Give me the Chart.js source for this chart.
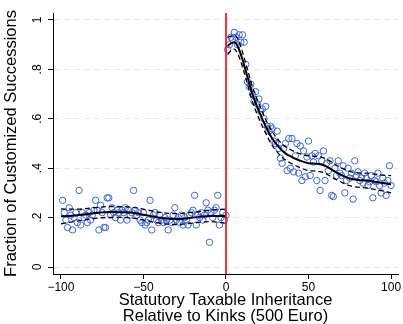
<!DOCTYPE html>
<html>
<head>
<meta charset="utf-8">
<script src="https://cdn.jsdelivr.net/npm/chart.js@4/dist/chart.umd.min.js"></script>
<style>
  html, body { margin: 0; padding: 0; background: #fff; }
  #wrap { width: 403px; height: 324px; }
</style>
</head>
<body>
<div id="wrap"><canvas id="c" width="403" height="324"></canvas></div>
<script>
// ---- data ----
const leftX = [-99,-98,-97,-96,-95,-94,-93,-92,-91,-90,-89,-88,-87,-86,-85,-84,-83,-82,-81,-80,
  -79,-78,-77,-76,-75,-74,-73,-72,-71,-70,-69,-68,-67,-66,-65,-64,-63,-62,-61,-60,
  -59,-58,-57,-56,-55,-54,-53,-52,-51,-50,-49,-48,-47,-46,-45,-44,-43,-42,-41,-40,
  -39,-38,-37,-36,-35,-34,-33,-32,-31,-30,-29,-28,-27,-26,-25,-24,-23,-22,-21,-20,
  -19,-18,-17,-16,-15,-14,-13,-12,-11,-10,-9,-8,-7,-6,-5,-4,-3,-2,-1,0];
const leftY = [0.27,0.22,0.19,0.16,0.24,0.21,0.15,0.20,0.22,0.18,0.31,0.17,0.22,0.20,0.21,0.18,0.22,0.19,0.21,0.23,
  0.27,0.23,0.15,0.25,0.22,0.16,0.16,0.28,0.28,0.21,0.24,0.22,0.20,0.23,0.22,0.19,0.23,0.22,0.24,0.19,
  0.23,0.21,0.22,0.31,0.23,0.21,0.22,0.19,0.18,0.22,0.17,0.18,0.19,0.27,0.15,0.21,0.22,0.19,0.18,0.21,
  0.19,0.18,0.20,0.19,0.15,0.19,0.18,0.21,0.24,0.19,0.20,0.18,0.21,0.17,0.20,0.19,0.17,0.21,0.22,0.23,
  0.29,0.17,0.21,0.20,0.22,0.19,0.21,0.26,0.23,0.10,0.22,0.20,0.23,0.24,0.29,0.17,0.20,0.22,0.19,0.21];

const rightX = [1,2,3,4,5,6,7,8,9,10,11,12,13,14,15,16,17,18,19,20,
  21,22,23,24,25,26,27,28,29,30,31,32,33,34,35,36,37,38,39,40,
  41,42,43,44,45,46,47,48,49,50,51,52,53,54,55,56,57,58,59,60,
  61,62,63,64,65,66,67,68,69,70,71,72,73,74,75,76,77,78,79,80,
  81,82,83,84,85,86,87,88,89,90,91,92,93,94,95,96,97,98,99,100];
const rightY = [0.88,0.90,0.93,0.92,0.95,0.93,0.90,0.94,0.91,0.94,0.91,0.82,0.75,0.73,0.74,0.70,0.67,0.71,0.66,0.68,
  0.63,0.64,0.60,0.65,0.57,0.55,0.57,0.56,0.51,0.50,0.55,0.48,0.44,0.42,0.48,0.50,0.39,0.52,0.40,0.52,
  0.385,0.45,0.50,0.38,0.49,0.35,0.47,0.365,0.445,0.51,0.37,0.45,0.425,0.46,0.35,0.45,0.31,0.43,0.47,0.35,
  0.42,0.39,0.43,0.29,0.285,0.40,0.37,0.43,0.38,0.37,0.41,0.30,0.35,0.40,0.36,0.38,0.275,0.43,0.37,0.385,
  0.35,0.36,0.34,0.38,0.36,0.33,0.345,0.37,0.28,0.35,0.345,0.38,0.33,0.30,0.36,0.34,0.29,0.35,0.41,0.33];

// fitted polynomial and confidence band
const fitLeftX  = [-100,-90,-80,-70,-60,-50,-40,-30,-20,-10,0];
const fitLeftY  = [0.205,0.210,0.218,0.223,0.222,0.212,0.199,0.194,0.200,0.207,0.206];
const fitLeftHi = [0.235,0.234,0.240,0.245,0.244,0.234,0.221,0.216,0.222,0.230,0.235];
const fitLeftLo = [0.175,0.186,0.196,0.201,0.200,0.190,0.177,0.172,0.178,0.184,0.177];

const fitRightX  = [1,3,5,7,10,13,16,20,24,28,32,36,40,45,50,55,60,65,70,75,80,85,90,95,100];
const fitRightY  = [0.895,0.905,0.910,0.895,0.840,0.770,0.700,0.630,0.570,0.520,0.485,0.460,0.445,0.430,0.420,0.418,0.410,0.390,0.372,0.358,0.352,0.350,0.345,0.340,0.335];
const fitRightHi = [0.930,0.935,0.938,0.925,0.870,0.800,0.730,0.660,0.598,0.548,0.512,0.487,0.472,0.458,0.450,0.448,0.440,0.420,0.401,0.387,0.381,0.380,0.376,0.372,0.370];
const fitRightLo = [0.860,0.875,0.882,0.865,0.810,0.740,0.670,0.600,0.542,0.492,0.458,0.433,0.418,0.402,0.390,0.388,0.380,0.360,0.343,0.329,0.323,0.320,0.314,0.308,0.300];

const cutoffX = [0, 0];
const xRange = [-104.8, 104.2];
const yRange = [-0.0283, 1.0283];
const xTickValues = [-100, -50, 0, 50, 100];
const xTickLabels = ['\u2212100', '\u221250', '0', '50', '100'];
const yTickValues = [0, 0.2, 0.4, 0.6, 0.8, 1];
const yTickLabels = ['0', '.2', '.4', '.6', '.8', '1'];
const xTitle = ['Statutory Taxable Inheritance', 'Relative to Kinks (500 Euro)'];
const yTitle = 'Fraction of Customized Successions';

// ---- build chart ----
const zip = (xs, ys) => xs.map((x, i) => ({x: x, y: ys[i]}));
const FONT = "'Liberation Sans', Arial, Helvetica, sans-serif";
const BLUE = '#3f66d6';

function fitSet(xs, ys, dashed, order) {
  return {
    data: zip(xs, ys),
    showLine: true,
    borderColor: '#000',
    borderWidth: dashed ? 1.3 : 2,
    borderDash: dashed ? [5, 3] : [],
    pointRadius: 0,
    pointHoverRadius: 0,
    tension: 0.4,
    cubicInterpolationMode: 'monotone',
    fill: false,
    order: order
  };
}

const datasets = [
  { data: zip(cutoffX, yRange), showLine: true, borderColor: '#ff0000', borderWidth: 1.6, pointRadius: 0, order: 0 },
  fitSet(fitLeftX, fitLeftY, false, 1),
  fitSet(fitLeftX, fitLeftHi, true, 1),
  fitSet(fitLeftX, fitLeftLo, true, 1),
  fitSet(fitRightX, fitRightY, false, 1),
  fitSet(fitRightX, fitRightHi, true, 1),
  fitSet(fitRightX, fitRightLo, true, 1),
  { data: zip(leftX, leftY), showLine: false, pointRadius: 3.2, pointBorderWidth: 1, pointBorderColor: BLUE, pointBackgroundColor: 'rgba(0,0,0,0)', order: 2 },
  { data: zip(rightX, rightY), showLine: false, pointRadius: 3.2, pointBorderWidth: 1, pointBorderColor: BLUE, pointBackgroundColor: 'rgba(0,0,0,0)', order: 2 }
];

new Chart(document.getElementById('c'), {
  type: 'scatter',
  data: { datasets: datasets },
  options: {
    responsive: false,
    animation: false,
    devicePixelRatio: 1,
    layout: { padding: { top: 13, right: 0, left: 0, bottom: 0 } },
    plugins: { legend: { display: false }, tooltip: { enabled: false } },
    scales: {
      x: {
        type: 'linear',
        min: xRange[0], max: xRange[1],
        afterBuildTicks: s => { s.ticks = xTickValues.map(v => ({value: v})); },
        afterFit: s => { s.height = 50; },
        ticks: {
          color: '#000', padding: 1, maxRotation: 0, autoSkip: false,
          font: { family: FONT, size: 12 },
          callback: (v) => xTickLabels[xTickValues.indexOf(v)]
        },
        grid: { drawOnChartArea: false, drawTicks: true, tickLength: 5, tickColor: '#000', tickWidth: 1 },
        border: { display: true, color: '#000', width: 1 },
        title: { display: true, text: xTitle, color: '#000', padding: { top: 0, bottom: -1 }, font: { family: FONT, size: 16.5, lineHeight: 1 } }
      },
      y: {
        type: 'linear',
        min: yRange[0], max: yRange[1],
        afterBuildTicks: s => { s.ticks = yTickValues.map(v => ({value: v})); },
        afterFit: s => { s.width = 53; },
        ticks: {
          color: '#000', padding: 5, minRotation: 90, maxRotation: 90, crossAlign: 'center', autoSkip: false,
          font: { family: FONT, size: 12 },
          callback: (v) => yTickLabels[yTickValues.indexOf(v)]
        },
        grid: { drawOnChartArea: true, color: '#e6e6e6', lineWidth: 1, drawTicks: true, tickLength: 5, tickColor: '#000', tickWidth: 1, tickBorderDash: [] },
        border: { display: true, color: '#000', width: 1, dash: [6, 4] },
        title: { display: true, text: yTitle, color: '#000', padding: { top: 2, bottom: 0 }, font: { family: FONT, size: 16.5, lineHeight: 1.1 } }
      }
    }
  }
});
</script>
</body>
</html>
